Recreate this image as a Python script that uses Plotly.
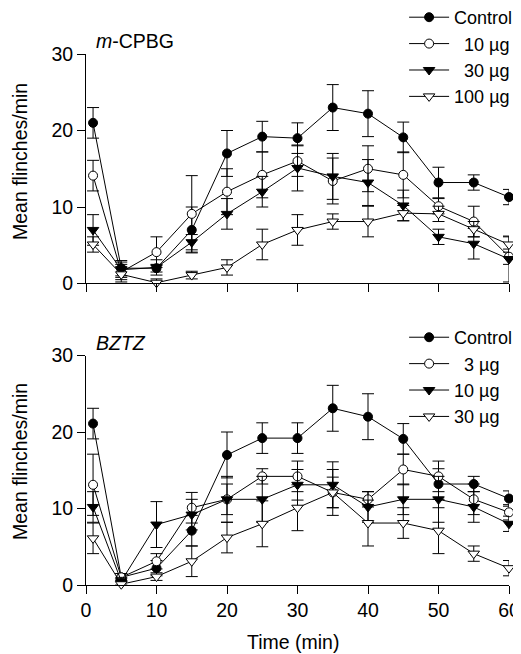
import plotly.graph_objects as go
from plotly.subplots import make_subplots

time = [1, 5, 10, 15, 20, 25, 30, 35, 40, 45, 50, 55, 60]

# Top panel: m-CPBG
top_names = ["Control", "\u00a0\u00a010 \u00b5g", "\u00a0\u00a030 \u00b5g", "100 \u00b5g"]
top_control = [21, 2, 2, 7, 17, 19.2, 19, 23, 22.2, 19.1, 13.2, 13.2, 11.3]
top_control_err = [2, 1, 0.5, 3, 3, 2, 2, 3, 3, 2, 2, 1, 1]
top_10 = [14.1, 1.5, 4.1, 9.1, 12, 14.2, 16, 13.4, 15, 14.2, 10.1, 8.1, 3.5]
top_10_err = [2, 1, 2, 5, 3, 3, 2, 3, 3, 3, 1, 2, 1]
top_30 = [7, 1.8, 2.1, 5.4, 9.1, 12, 15.1, 14, 13.2, 10.2, 6.1, 5.2, 3.2]
top_30_err = [2, 1, 1, 1, 2, 2, 3, 3, 3, 2, 1, 2, 3]
top_100 = [5.1, 1.2, 0.1, 1.1, 2.1, 5.1, 7, 8.1, 8.1, 9.2, 9.1, 7.1, 5.1]
top_100_err = [1, 1, 0.5, 0.5, 1, 2, 2, 1, 2, 1, 1, 1, 1]

# Bottom panel: BZTZ
bot_names = ["Control", "\u00a0\u00a03 \u00b5g", "10 \u00b5g", "30 \u00b5g"]
bot_control = [21.1, 1, 2.2, 7.1, 17, 19.2, 19.2, 23.1, 22, 19.1, 13.2, 13.2, 11.3]
bot_control_err = [2, 0.5, 1, 2, 3, 2, 2, 3, 3, 2, 2, 1, 1]
bot_3 = [13.1, 1, 3.1, 10.1, 11.2, 14.2, 14.2, 12.1, 11.2, 15.1, 14.2, 11.2, 9.5]
bot_3_err = [4, 0.5, 1, 2, 2, 1, 2, 3, 1, 2, 2, 2, 1]
bot_10 = [10.2, 0.5, 7.9, 9.2, 11.2, 11.2, 13.1, 13.1, 10.2, 11.2, 11.2, 10.2, 8]
bot_10_err = [2, 0.5, 3, 2, 3, 3, 2, 3, 2, 2, 3, 2, 1]
bot_30 = [6.1, 0.1, 1.1, 3.1, 6.2, 8, 10.1, 12.1, 8.1, 8.1, 7.1, 4.1, 2.2]
bot_30_err = [2, 0.5, 0.5, 2, 2, 3, 3, 2, 3, 2, 3, 1, 1]

symbols = ["circle", "circle-open", "triangle-down", "triangle-down-open"]

FONT = "Liberation Sans, Arial, sans-serif"
FS = 19.5

fig = make_subplots(rows=2, cols=1, vertical_spacing=0.1356)

def add_series(row, names, vals, errs, legend):
    for name, v, e, sym in zip(names, vals, errs, symbols):
        open_ = "open" in sym
        fig.add_trace(go.Scatter(
            x=time, y=v, name=name, mode="lines+markers",
            line=dict(color="black", width=1),
            marker=dict(symbol=sym.replace("-open", ""), size=10 if "triangle" in sym else 9,
                        color="white" if open_ else "black",
                        line=dict(color="black", width=1)),
            error_y=dict(type="data", array=e, visible=True, color="black",
                         thickness=1, width=6),
            cliponaxis=False, legend=legend,
        ), row=row, col=1)

add_series(1, top_names, [top_control, top_10, top_30, top_100],
           [top_control_err, top_10_err, top_30_err, top_100_err], "legend")
add_series(2, bot_names, [bot_control, bot_3, bot_10, bot_30],
           [bot_control_err, bot_3_err, bot_10_err, bot_30_err], "legend2")

axis_common = dict(showline=True, linecolor="black", linewidth=1, ticks="outside",
                   ticklen=8, tickcolor="black", showgrid=False, zeroline=False,
                   automargin=False,
                   tickfont=dict(size=FS, color="black", family=FONT))

for r in (1, 2):
    fig.update_xaxes(range=[0, 60], tickvals=[0, 10, 20, 30, 40, 50, 60],
                     showticklabels=(r == 2), row=r, col=1, **axis_common)
    fig.update_yaxes(range=[0, 30], tickvals=[0, 10, 20, 30], row=r, col=1,
                     **axis_common)

title_font = dict(size=19.5, family=FONT, color="black")

# page has an 8px body margin, so the figure is shifted by 8px right and down
fig.update_layout(
    width=513, height=646,
    margin=dict(l=78, r=12, t=46, b=69, autoexpand=False),
    plot_bgcolor="white", paper_bgcolor="white",
    font=dict(family=FONT, color="black", size=FS),
    legend=dict(x=0.752, y=1.1036, xref="paper", yref="paper",
                xanchor="left", yanchor="top", bgcolor="rgba(0,0,0,0)",
                font=dict(size=18), itemwidth=40, tracegroupgap=0),
    legend2=dict(x=0.752, y=0.5009, xref="paper", yref="paper",
                 xanchor="left", yanchor="top", bgcolor="rgba(0,0,0,0)",
                 font=dict(size=18), itemwidth=40, tracegroupgap=0),
    annotations=[
        dict(text="<i>m</i>-CPBG", x=0.02, y=1.0, xref="paper", yref="paper",
             xanchor="left", yanchor="bottom", showarrow=False, font=title_font),
        dict(text="<i>BZTZ</i>", x=0.02, y=0.4313, xref="paper", yref="paper",
             xanchor="left", yanchor="bottom", showarrow=False, font=title_font),
        dict(text="Mean flinches/min", x=-0.156, y=0.7966, xref="paper", yref="paper",
             xanchor="center", yanchor="middle", textangle=-90, showarrow=False, font=title_font),
        dict(text="Mean flinches/min", x=-0.156, y=0.2316, xref="paper", yref="paper",
             xanchor="center", yanchor="middle", textangle=-90, showarrow=False, font=title_font),
        dict(text="Time (min)", x=0.489, y=-0.1073, xref="paper", yref="paper",
             xanchor="center", yanchor="middle", showarrow=False, font=title_font),
    ],
)

fig.write_html("out.html")
